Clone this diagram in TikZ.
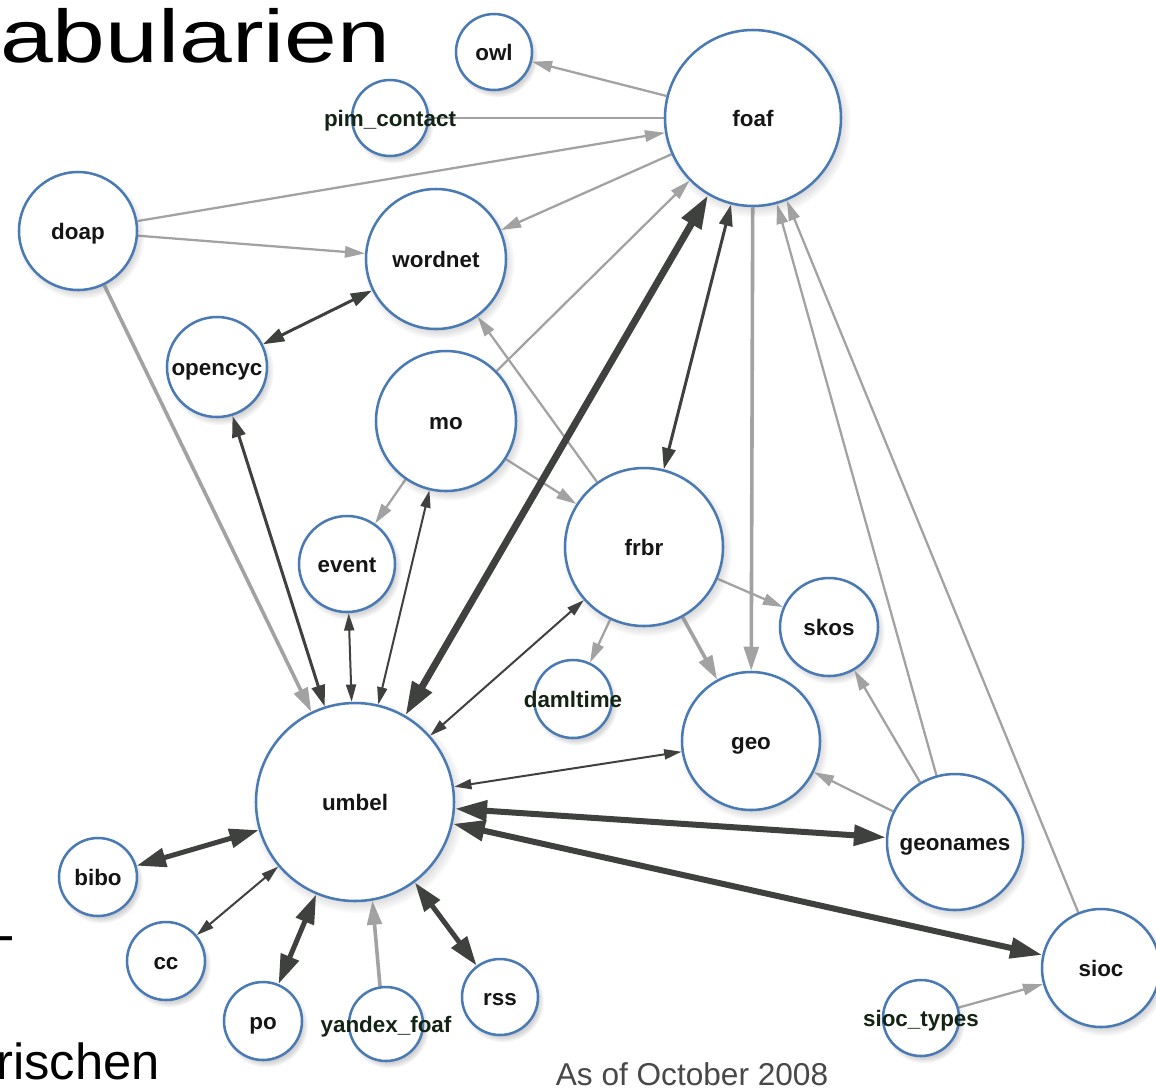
\documentclass[tikz,border=0pt]{standalone}
\usepackage{fontspec}
\setmainfont{Liberation Sans}
\usetikzlibrary{arrows.meta,shadows,backgrounds}
\definecolor{nodeblue}{HTML}{4A7AB4}
\definecolor{lgray}{HTML}{A2A2A2}
\definecolor{dgray}{HTML}{3E413E}
\definecolor{lbl}{HTML}{151515}
\definecolor{lblg}{HTML}{142414}
\definecolor{notegray}{HTML}{484848}
\begin{document}
\begin{tikzpicture}[x=0.75pt,y=-0.75pt,
  vocab/.style={circle, draw=nodeblue, line width=1.9pt, fill=white, inner sep=0pt,
    circular drop shadow={shadow xshift=2pt, shadow yshift=-3pt, shadow scale=1.08, opacity=0.35}},
  rad/.style={minimum size=#1*0.75pt},
  txt/.style={font=\fontsize{16.8}{18}\selectfont\bfseries, text=lbl, inner sep=0pt, text height=0.72em, text depth=0pt, yshift=-2.8pt},
  txtg/.style={txt, text=lblg},
  lt/.style={draw=lgray, line width=1.7pt, -{Triangle[length=15pt,width=8.5pt]}},
  lplain/.style={draw=lgray, line width=1.7pt},
  lT/.style={draw=lgray, line width=2.7pt, -{Triangle[length=18pt,width=11pt]}},
  dthin/.style={draw=dgray, line width=1.5pt, {Triangle[length=13pt,width=7.5pt]}-{Triangle[length=13pt,width=7.5pt]}},
  dmed/.style={draw=dgray, line width=2.25pt, {Triangle[length=16pt,width=10pt]}-{Triangle[length=16pt,width=10pt]}},
  dthick/.style={draw=dgray, line width=3.75pt, {Triangle[length=22pt,width=14pt]}-{Triangle[length=22pt,width=14pt]}},
  dxthick/.style={draw=dgray, line width=4.5pt, {Triangle[length=24pt,width=15pt]}-{Triangle[length=24pt,width=15pt]}},
  dhuge/.style={draw=dgray, line width=5.25pt, {Triangle[length=25pt,width=16pt]}-{Triangle[length=25pt,width=16pt]}},
  bigtxt/.style={inner sep=0pt, text=black},
]
\useasboundingbox (0,0) rectangle (1156,1090);

% nodes
\node[vocab, rad=76,  label={[txt]center:owl}]          (owl)       at (494,52)   {};
\node[vocab, rad=176, label={[txt]center:foaf}]         (foaf)      at (753,118)  {};
\node[vocab, rad=76,  label={[txtg]center:pim\_contact}] (pim)      at (390,118)  {};
\node[vocab, rad=118, label={[txt]center:doap}]         (doap)      at (78,231)   {};
\node[vocab, rad=140, label={[txt]center:wordnet}]      (wordnet)   at (436,259)  {};
\node[vocab, rad=100, label={[txt]center:opencyc}]      (opencyc)   at (217,367)  {};
\node[vocab, rad=140, label={[txt]center:mo}]           (mo)        at (446,421)  {};
\node[vocab, rad=96,  label={[txt]center:event}]        (event)     at (347,564)  {};
\node[vocab, rad=158, label={[txt]center:frbr}]         (frbr)      at (644,547)  {};
\node[vocab, rad=98,  label={[txt]center:skos}]         (skos)      at (829,627)  {};
\node[vocab, rad=78,  label={[txtg]center:damltime}]    (damltime)  at (573,699)  {};
\node[vocab, rad=138, label={[txt]center:geo}]          (geo)       at (751,741)  {};
\node[vocab, rad=198, label={[txt]center:umbel}]        (umbel)     at (355,802)  {};
\node[vocab, rad=136, label={[txt]center:geonames}]     (geonames)  at (955,842)  {};
\node[vocab, rad=78,  label={[txt]center:bibo}]         (bibo)      at (98,877)   {};
\node[vocab, rad=78,  label={[txt]center:cc}]           (cc)        at (166,961)  {};
\node[vocab, rad=78,  label={[txt]center:po}]           (po)        at (263,1021) {};
\node[vocab, rad=74,  label={[txtg]center:yandex\_foaf}] (yandex)   at (386,1024) {};
\node[vocab, rad=76,  label={[txt]center:rss}]          (rss)       at (500,997)  {};
\node[vocab, rad=118, label={[txt]center:sioc}]         (sioc)      at (1101,968) {};
\node[vocab, rad=76,  label={[txtg]center:sioc\_types}] (sioctypes) at (921,1018) {};

% texts
\node[bigtxt, anchor=base west] (title) at (0,62)
  {\fontsize{56}{60}\selectfont\scalebox{1.27}[1]{abularien}};
\node[bigtxt, anchor=base west] (dash) at (-3,952) {\fontsize{39}{42}\selectfont -};
\node[bigtxt, anchor=base west] (rest) at (-4,1079) {\fontsize{38}{42}\selectfont rischen};
\node[inner sep=0pt, anchor=base, text=notegray] (date) at (692,1085)
  {\fontsize{23.7}{26}\selectfont As of October 2008};

\begin{scope}[on background layer]
\fill[white] (0,0) rectangle (1156,1090);
% light gray edges
\draw[lt] (foaf) -- (owl);
\draw[lplain] (pim) -- (foaf);
\draw[lt] (doap) -- (foaf);
\draw[lt] (doap) -- (wordnet);
\draw[lt] (foaf) -- (wordnet);
\draw[lT] (doap) -- (umbel);
\draw[lt] (mo) -- (foaf);
\draw[lt] (frbr) -- (wordnet);
\draw[lt] (mo) -- (frbr);
\draw[lt] (mo) -- (event);
\draw[lt] (frbr) -- (skos);
\draw[lt] (frbr) -- (damltime);
\draw[lT] (frbr) -- (geo);
\draw[lT] (foaf) -- (geo);
\draw[lt] (geonames) -- (skos);
\draw[lt] (geonames) -- (geo);
\draw[lt] (geonames) -- (foaf);
\draw[lt] (sioc) -- (foaf);
\draw[lT] (yandex.99) -- (umbel.-80);
\draw[lt] (sioctypes) -- (sioc);
% dark edges
\draw[dhuge] (umbel) -- (foaf);
\draw[dmed] (frbr) -- (foaf);
\draw[dmed] (opencyc) -- (wordnet);
\draw[dmed] (opencyc) -- (umbel);
\draw[dthin] (event) -- (umbel);
\draw[dthin] (umbel) -- (mo);
\draw[dthin] (umbel) -- (frbr);
\draw[dthin] (umbel) -- (geo);
\draw[dxthick] (umbel) -- (geonames);
\draw[dxthick] (umbel) -- (sioc);
\draw[dthick] (umbel) -- (bibo);
\draw[dthin] (umbel) -- (cc);
\draw[dthick] (umbel) -- (po);
\draw[dthick] (umbel) -- (rss);
\end{scope}
\end{tikzpicture}
\end{document}
